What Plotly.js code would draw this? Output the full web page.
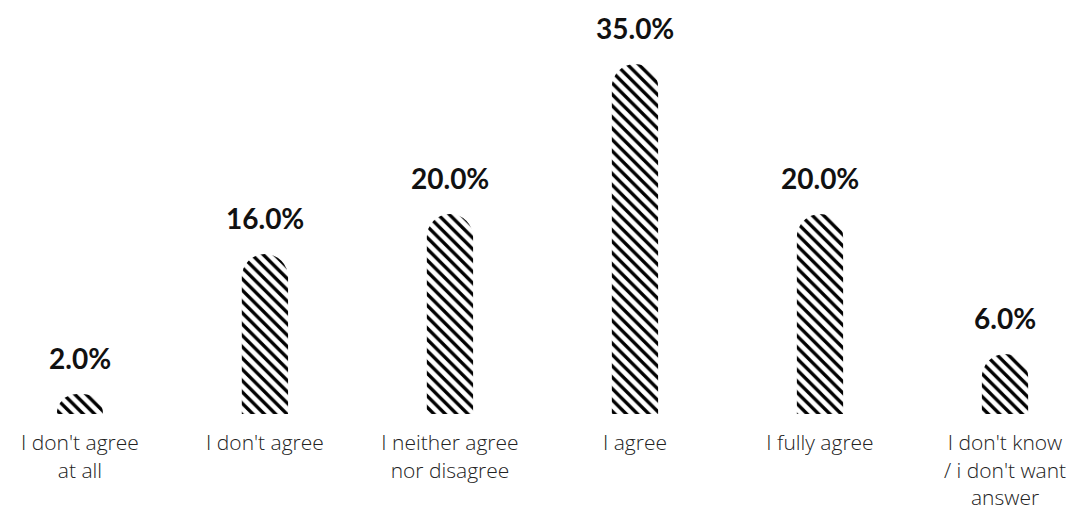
<!DOCTYPE html>
<html>
<head>
<meta charset="utf-8">
<script src="https://cdn.plot.ly/plotly-3.0.1.min.js"></script>
<style>html,body{margin:0;padding:0;background:#fff;}#chart{width:1089px;height:513px;}</style>
</head>
<body>
<div id="chart"></div>
<script>
var categories = ["I don't agree<br>at all", "I don't agree", "I neither agree<br>nor disagree", "I agree", "I fully agree", "I don't know<br>/ i don't want<br>answer"];
var values = [2, 16, 20, 35, 20, 6];
var valueLabels = ["2.0%", "16.0%", "20.0%", "35.0%", "20.0%", "6.0%"];

var trace = {
  type: 'bar',
  x: categories,
  y: values,
  width: 0.25,
  marker: {
    color: '#ffffff',
    line: {width: 0},
    cornerradius: '50%',
    pattern: {shape: '\\', fgcolor: '#000000', bgcolor: '#ffffff', size: 8, solidity: 0.42, fillmode: 'replace'}
  },
  hoverinfo: 'none'
};

var annotations = categories.map(function(c, i) {
  return {
    x: c, y: values[i], xref: 'x', yref: 'y',
    text: '<b>' + valueLabels[i] + '</b>',
    showarrow: false, yanchor: 'bottom', yshift: 17,
    font: {family: 'Lato, Roboto, sans-serif', size: 28, color: '#111111'}
  };
});

var layout = {
  width: 1089, height: 513,
  margin: {l: 0, r: 0, t: 14, b: 99},
  paper_bgcolor: '#ffffff', plot_bgcolor: '#ffffff',
  showlegend: false,
  xaxis: {
    type: 'category',
    range: [-0.432, 5.454],
    showgrid: false, zeroline: false, showline: false,
    ticks: 'outside', ticklen: 10, tickcolor: 'rgba(0,0,0,0)',
    tickfont: {family: '"Open Sans", Lato, sans-serif', size: 21, weight: 300, color: '#222222'}
  },
  yaxis: {
    range: [0, 40],
    visible: false, showgrid: false, zeroline: false
  },
  annotations: annotations
};

Plotly.newPlot('chart', [trace], layout, {displayModeBar: false, staticPlot: true});
</script>
</body>
</html>
